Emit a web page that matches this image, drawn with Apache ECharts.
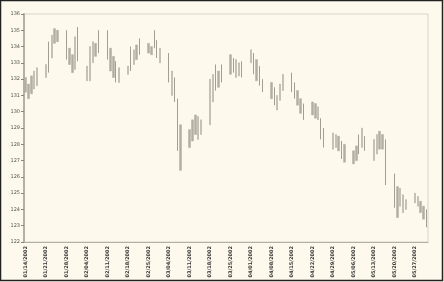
<!DOCTYPE html>
<html><head><meta charset="utf-8">
<script src="https://cdn.jsdelivr.net/npm/echarts@6/dist/echarts.min.js"></script>
<style>html,body{margin:0;padding:0;background:#fdf9ec;}#c{width:444px;height:282px;}</style>
</head><body><div id="c"></div>
<script>
// weekly tick labels (one per Monday)
var tickLabels = ["01/14/2002","01/21/2002","01/28/2002","02/04/2002","02/11/2002","02/18/2002","02/25/2002","03/04/2002","03/11/2002","03/18/2002","03/25/2002","04/01/2002","04/08/2002","04/15/2002","04/22/2002","04/29/2002","05/06/2002","05/13/2002","05/20/2002","05/27/2002"];
var yTicks = [122,123,124,125,126,127,128,129,130,131,132,133,134,135,136];
// trading days, 5 per week (Mon..Fri)
var highs = [
132.1,131.7,132.2,132.5,132.7,
132.9,134.3,134.7,135.1,135.0,
135.0,133.9,133.5,134.6,135.2,
132.8,134.0,134.3,134.2,135.0,
135.0,133.9,133.4,133.1,132.7,
132.8,134.0,133.8,134.1,134.5,
134.2,134.0,135.0,134.4,133.9,
133.6,132.5,132.1,130.8,129.2,
128.9,129.5,129.8,129.7,129.5,
132.0,132.3,132.9,132.5,132.9,
133.5,133.3,133.2,133.0,133.1,
133.8,133.6,133.2,132.8,132.0,
131.8,131.5,131.0,131.7,132.3,
132.4,131.8,131.3,130.8,130.5,
130.6,130.5,130.3,129.6,129.0,
128.7,128.6,128.5,128.2,128.0,
127.6,127.9,128.6,129.0,128.5,
128.3,128.6,128.8,128.6,128.3,
126.2,125.4,125.3,124.9,124.6,
125.0,124.8,124.5,124.2,124.0
];
var lows = [
131.2,130.8,131.1,131.4,131.6,
132.1,132.4,133.3,134.2,134.3,
133.2,132.9,132.4,132.6,133.1,
131.9,131.9,133.0,133.4,133.6,
133.2,132.5,132.1,131.8,131.8,
132.3,132.5,132.9,133.2,133.5,
133.6,133.5,133.9,133.3,133.0,
131.8,131.0,130.6,127.6,126.4,
127.8,128.2,128.6,128.3,128.6,
129.2,130.6,131.3,131.5,131.8,
132.3,132.4,132.1,132.2,132.1,
133.0,132.3,131.9,131.6,131.2,
130.8,130.4,130.1,130.7,131.3,
131.2,130.8,130.4,129.9,129.5,
129.8,129.6,129.5,128.3,127.8,
127.7,127.8,127.6,127.1,126.9,
126.8,127.0,127.4,127.8,127.6,
127.0,127.4,127.7,127.7,125.5,
124.1,123.5,124.2,123.8,124.0,
124.4,124.2,123.8,123.4,122.9
];
// trading-day indices drawn as down (dark) bars
var downBars = [6,10,14,19,20,23,26,29,32,33,35,37,38,47,49,51,54,56,58,59,61,65,66,69,73,74,78,82,84,89,90,99];

var nDays = 138, cats = [], upData = [], downData = [];
for (var i = 0; i < nDays; i++) { cats.push(String(i)); upData.push('-'); downData.push('-'); }
for (var t = 0; t < highs.length; t++) {
  var pos = Math.floor(t / 5) * 7 + (t % 5);
  if (downBars.indexOf(t) >= 0) downData[pos] = [highs[t], lows[t], lows[t], highs[t]];
  else upData[pos] = [lows[t], highs[t], lows[t], highs[t]];
}

var chart = echarts.init(document.getElementById('c'), null, {renderer: 'canvas'});
chart.setOption({
  backgroundColor: '#fdf9ec',
  animation: false,
  grid: {left: 24, right: 16, top: 14, bottom: 40, show: true, borderColor: '#d8d3c6', borderWidth: 1, backgroundColor: 'transparent'},
  xAxis: {
    type: 'category', data: cats, boundaryGap: true,
    axisLine: {lineStyle: {color: '#b5b0a4', width: 1}},
    axisTick: {alignWithLabel: true, interval: 6, length: 3, lineStyle: {color: '#8a867c'}},
    axisLabel: {interval: 6, rotate: 90, fontSize: 5, color: '#333', margin: 4, fontFamily: 'DejaVu Sans', fontWeight: 'bold',
      formatter: function (v, idx) { return tickLabels[Math.round(idx / 7)] || ''; }},
    splitLine: {show: false}
  },
  yAxis: {
    type: 'value', min: yTicks[0], max: yTicks[yTicks.length - 1], interval: 1,
    axisLine: {show: true, lineStyle: {color: '#b5b0a4', width: 2}},
    axisTick: {show: true, length: 3, lineStyle: {color: '#8a867c'}},
    axisLabel: {fontSize: 5, color: '#555', margin: 4, fontFamily: 'DejaVu Sans'},
    splitLine: {show: false}
  },
  series: [{
    type: 'candlestick', data: upData, barWidth: 2,
    itemStyle: {color: '#b3aea2', color0: '#b3aea2', borderColor: '#b3aea2', borderColor0: '#b3aea2', borderWidth: 0.5}
  }, {
    type: 'candlestick', data: downData, barWidth: 1,
    itemStyle: {color: '#45423d', color0: '#45423d', borderColor: '#45423d', borderColor0: '#45423d', borderWidth: 0.5}
  }],
  graphic: [{type: 'rect', shape: {x: 0.5, y: 0.5, width: 442, height: 280}, style: {fill: 'none', stroke: '#222', lineWidth: 1.5}, silent: true}]
});
</script></body></html>
